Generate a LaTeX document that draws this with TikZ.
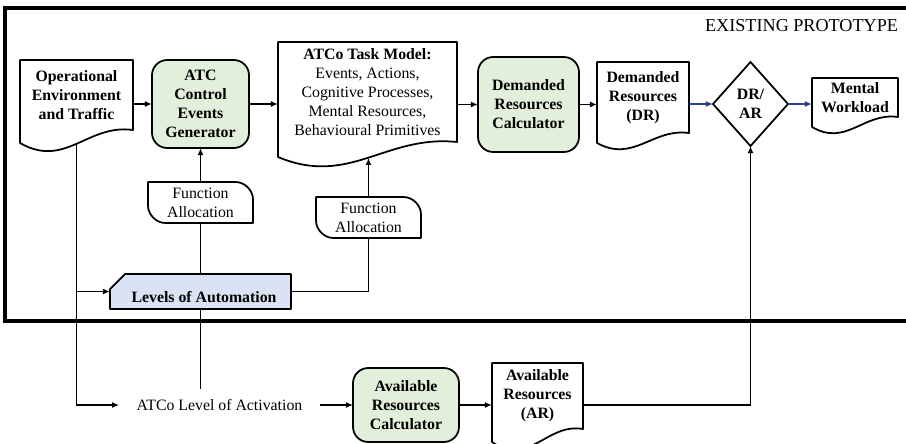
\documentclass[tikz,border=0pt]{standalone}
\usepackage{fontspec}
\setmainfont{Liberation Serif}
\usepackage{xcolor}
\usetikzlibrary{shapes.geometric, arrows.meta, positioning, calc, backgrounds}
\definecolor{cGreen}{RGB}{226,239,218}
\definecolor{cBlue}{RGB}{218,227,243}
\definecolor{cNavy}{RGB}{47,62,140}
\tikzset{
	txt/.style      ={align=center, inner sep=0pt, outer sep=0pt, font=\fontsize{13.5}{16.2}\selectfont},
	bold/.style     ={txt, font=\fontsize{13.5}{16.2}\selectfont\bfseries},
	calcbox/.style  ={bold, rectangle, rounded corners=13pt, draw=black, line width=1.5pt, fill=cGreen},
	docbox/.style   ={rectangle},
	decide/.style   ={bold, diamond, draw=black, line width=1.5pt, minimum width=2.25cm, minimum height=2.52cm},
	% connector styles
	shapeline/.style={line width=1.5pt, line join=round},
	flow/.style     ={-{Latex[length=6pt, width=5pt]}, line width=1.5pt},
	link/.style     ={line width=1.5pt},
	frame/.style    ={line width=2.8pt},
}
% document shape with a wavy bottom (#2 = depth of the wave)
\newcommand{\docoutline}[2]{%
	\draw[shapeline] ($(#1.south west)+(0,#2)$)
		.. controls ($(#1.south west)!0.4!(#1.south east)+(0,3*#2)$) and ($(#1.south west)!0.6!(#1.south east)+(0,-0.5*#2)$) .. (#1.south east) coordinate[pos=0.5] (#1-w)
		-- (#1.north east) -- (#1.north west) -- cycle;
}
% card with two rounded corners
\newcommand{\cardoutline}[1]{%
	\draw[shapeline] (#1.north west) -- ([xshift=-15pt]#1.north east)
		.. controls ([xshift=-7pt]#1.north east) and ([yshift=-7pt]#1.north east) .. ([yshift=-15pt]#1.north east)
		-- (#1.south east) -- ([xshift=15pt]#1.south west)
		.. controls ([xshift=7pt]#1.south west) and ([yshift=7pt]#1.south west) .. ([yshift=15pt]#1.south west) -- cycle;
}
% manual input box with a cut corner
\newcommand{\inputoutline}[1]{%
	\begin{scope}[on background layer]
		\draw[shapeline, fill=cBlue] ([yshift=-13pt]#1.north west) -- ([xshift=13pt]#1.north west) -- (#1.north east) -- (#1.south east) -- (#1.south west) -- cycle;
	\end{scope}
}

\begin{document}
\begin{tikzpicture}[x=0.03cm, y=-0.03cm]
	\useasboundingbox (0,0) rectangle (906,443);
	\draw[frame] (906,8) -- (5,8) -- (5,321) -- (906,321);
	\node[txt, anchor=east, font=\fontsize{15.5}{18}\selectfont] (proto) at (898,26) {EXISTING PROTOTYPE};

	% top row
	\node[bold, docbox, minimum width=3.39cm, minimum height=2.1cm] (env) at (76.5,95) {Operational\\Environment\\and Traffic};
	\docoutline{env}{13}
	\node[calcbox, minimum width=2.91cm, minimum height=2.64cm] (gen) at (200.5,104) {ATC\\Control\\Events\\Generator};
	\node[txt, docbox, minimum width=5.37cm, minimum height=3cm] (task) at (367.5,92) {\textbf{ATCo Task Model:}\\Events, Actions,\\Cognitive Processes,\\Mental Resources,\\Behavioural Primitives};
	\docoutline{task}{15}
	\node[calcbox, minimum width=3.03cm, minimum height=2.85cm] (drc) at (528.5,104.5) {Demanded\\Resources\\Calculator};
	\node[bold, docbox, minimum width=2.76cm, minimum height=2.13cm] (dr) at (643,97.5) {Demanded\\Resources\\(DR)};
	\docoutline{dr}{10}
	\node[decide] (ratio) at (750.5,104) {DR/\\AR};
	\node[bold, docbox, minimum width=2.58cm, minimum height=1.17cm] (mw) at (855,97.5) {Mental\\Workload};
	\docoutline{mw}{10}

	% function allocation and automation
	\node[txt, minimum width=3.15cm, minimum height=1.23cm] (fa1) at (200.5,202.5) {Function\\Allocation};
	\cardoutline{fa1}
	\node[txt, minimum width=3.15cm, minimum height=1.23cm] (fa2) at (368.5,217.5) {Function\\Allocation};
	\cardoutline{fa2}
	\node[bold, minimum width=5.43cm, minimum height=1.05cm] (loa) at (200.5,291.5) {\hspace*{6pt}\raisebox{-9pt}[0pt][0pt]{Levels of Automation}};
	\inputoutline{loa}

	% bottom row
	\node[txt, inner xsep=15pt, inner ysep=9pt] (act) at (219.5,405) {ATCo Level of Activation};
	\node[calcbox, minimum width=3.18cm, minimum height=2.22cm] (arc) at (406,405) {Available\\Resources\\Calculator};
	\node[bold, docbox, minimum width=2.73cm, minimum height=1.98cm] (ar) at (537.5,396) {Available\\Resources\\(AR)};
	\docoutline{ar}{13}

	% connectors
	\draw[flow] (gen.west -| env.east) -- (gen.west);
	\draw[flow] (gen.east) -- (gen.east -| task.west);
	\draw[flow] (drc.west -| task.east) -- (drc.west);
	\draw[flow] (drc.east) -- (drc.east -| dr.west);
	\draw[flow, cNavy] (ratio.west -| dr.east) -- (ratio.west);
	\draw[flow, cNavy] (ratio.east) -- (ratio.east -| mw.west);
	\draw[flow] (fa1.north) -- (gen.south);
	\draw[flow] (fa2.north) -- (fa2.north |- task-w);
	\draw[link] (fa1.south) -- (loa.north);
	\draw[link] (loa.east) -| (fa2.south);
	\draw[link] (loa.south) -- (loa.south |- act.north);
	\draw[flow] (env-w) |- (act.west);
	\draw[flow] (env-w |- loa.west) -- (loa.west);
	\draw[flow] (act.east) -- (arc.west);
	\draw[flow] (arc.east) -- (arc.east -| ar.west);
	\draw[flow] (arc.east -| ar.east) -| (ratio.south);
\end{tikzpicture}
\end{document}
